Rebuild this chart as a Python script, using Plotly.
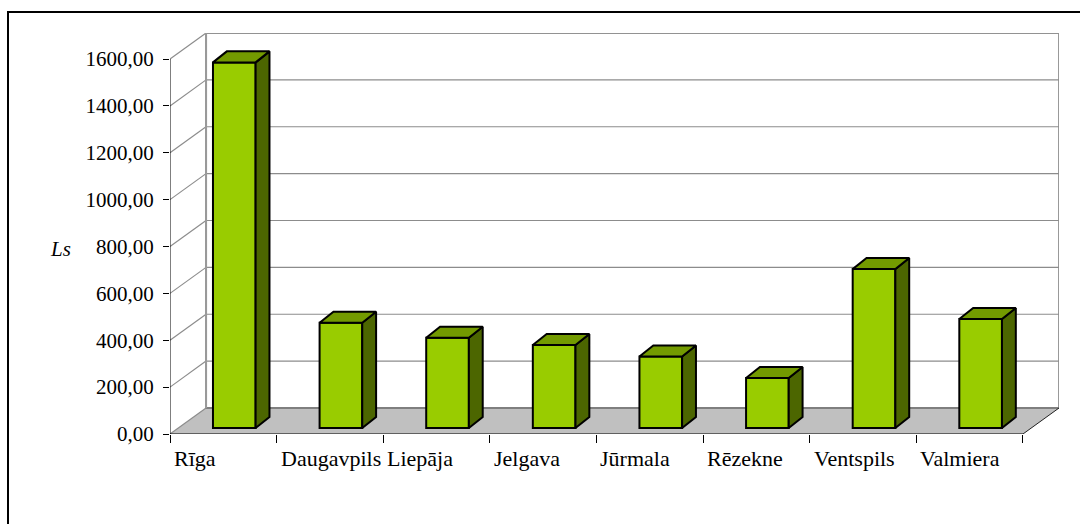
import plotly.graph_objects as go

# ---- data ----
categories = ["Rīga", "Daugavpils", "Liepāja", "Jelgava", "Jūrmala", "Rēzekne", "Ventspils", "Valmiera"]
values = [1560, 449, 385, 354, 305, 213, 678, 465]
tick_vals = [0, 200, 400, 600, 800, 1000, 1200, 1400, 1600]
tick_text = ["0,00", "200,00", "400,00", "600,00", "800,00", "1000,00", "1200,00", "1400,00", "1600,00"]
axis_title = "Ls"

# ---- pseudo-3D geometry (axis units) ----
n = len(categories)
DX, DY = 0.338, 111.0          # wall depth offset
SX, SY = 0.103, 25.6           # bar front-plane offset
BW = 0.40                      # bar width
BX, BY = 0.13, 47.0            # bar depth

FRONT = "#99CC00"
TOP = "#739A00"
SIDE = "#4C6600"
GRID = "#8C8C8C"
FONT = "Liberation Serif"
FS = 21

fig = go.Figure()

xl, xr = -0.5, n - 0.5
ymax = tick_vals[-1]

shapes = []
# back wall
shapes.append(dict(type="rect", xref="x", yref="y", x0=xl + DX, x1=xr + DX, y0=DY, y1=ymax + DY,
                   fillcolor="white", line=dict(color="#999999", width=2), layer="below"))
# floor
shapes.append(dict(type="path", xref="x", yref="y",
                   path=f"M{xl},0 L{xr},0 L{xr + DX},{DY} L{xl + DX},{DY} Z",
                   fillcolor="#C0C0C0", line=dict(width=0), layer="below"))
# floor back edge
shapes.append(dict(type="line", xref="x", yref="y", x0=xl + DX, x1=xr + DX, y0=DY, y1=DY,
                   line=dict(color="#7F7F7F", width=2), layer="below"))
# floor right edge
shapes.append(dict(type="line", xref="x", yref="y", x0=xr, x1=xr + DX, y0=0, y1=DY,
                   line=dict(color="#222222", width=1), layer="below"))
# grid lines (back wall + left side wall diagonals)
for v in tick_vals:
    if v > 0:
        shapes.append(dict(type="line", xref="x", yref="y", x0=xl + DX, x1=xr + DX, y0=v + DY, y1=v + DY,
                           line=dict(color=GRID, width=1.2), layer="below"))
    shapes.append(dict(type="line", xref="x", yref="y", x0=xl, x1=xl + DX, y0=v, y1=v + DY,
                       line=dict(color=GRID, width=1.2), layer="below"))
# left back vertical edge
shapes.append(dict(type="line", xref="x", yref="y", x0=xl + DX, x1=xl + DX, y0=DY, y1=ymax + DY,
                   line=dict(color="#999999", width=2), layer="below"))
# front value axis line
shapes.append(dict(type="line", xref="x", yref="y", x0=xl, x1=xl, y0=0, y1=ymax,
                   line=dict(color="black", width=1), layer="above"))
# front category axis line
shapes.append(dict(type="line", xref="x", yref="y", x0=xl, x1=xr, y0=0, y1=0,
                   line=dict(color="black", width=1), layer="above"))
# outer chart frame
shapes.append(dict(type="rect", xref="paper", yref="paper",
                   x0=(8 - 170) / 889, x1=(1095 - 170) / 889,
                   y0=(434 - 540) / 401, y1=(434 - 12) / 401,
                   line=dict(color="black", width=2), fillcolor="rgba(0,0,0,0)", layer="above"))

# bars: sides and tops
for i, v in enumerate(values):
    x0 = i - BW / 2 + SX
    x1 = i + BW / 2 + SX
    yb, yt = SY, v + SY
    fig.add_trace(go.Scatter(
        x=[x1, x1 + BX, x1 + BX, x1, x1], y=[yb, yb + BY, yt + BY, yt, yb],
        fill="toself", fillcolor=SIDE, mode="lines", line=dict(color="black", width=2),
        hoverinfo="skip", showlegend=False))
    fig.add_trace(go.Scatter(
        x=[x0, x0 + BX, x1 + BX, x1, x0], y=[yt, yt + BY, yt + BY, yt, yt],
        fill="toself", fillcolor=TOP, mode="lines", line=dict(color="black", width=2),
        hoverinfo="skip", showlegend=False))

# bars: front faces
fig.add_trace(go.Bar(
    x=[i + SX for i in range(n)], y=values, base=SY, width=BW,
    marker=dict(color=FRONT, line=dict(color="black", width=2)),
    showlegend=False, hovertext=categories))

annotations = []
for i, c in enumerate(categories):
    annotations.append(dict(x=i - 0.5, y=0, xref="x", yref="y", text=c, showarrow=False,
                            xanchor="left", yanchor="top", xshift=2, yshift=-10,
                            font=dict(family=FONT, size=FS + 1, color="black")))
annotations.append(dict(x=(60 - 170) / 889, y=(434 - 249) / 401, xref="paper", yref="paper",
                        text=f"<i>{axis_title}</i>", showarrow=False, xanchor="center", yanchor="middle",
                        font=dict(family=FONT, size=FS, color="black")))

fig.update_layout(
    width=1080, height=524,
    margin=dict(l=170, r=21, t=33, b=90, autoexpand=False),
    paper_bgcolor="white", plot_bgcolor="white",
    shapes=shapes, annotations=annotations,
    xaxis=dict(range=[xl, xr + DX], tickvals=[k - 0.5 for k in range(n + 1)], ticks="outside",
               ticklen=8, tickcolor="black", tickwidth=1, showticklabels=False,
               showgrid=False, zeroline=False, showline=False, fixedrange=True),
    yaxis=dict(range=[0, ymax + DY], tickvals=tick_vals, ticktext=tick_text, ticks="outside",
               ticklen=6, tickcolor="black", tickwidth=1, ticklabelstandoff=5,
               tickfont=dict(family=FONT, size=FS, color="black"),
               showgrid=False, zeroline=False, showline=False, fixedrange=True),
    showlegend=False,
)

fig.write_html("out.html", config={"displayModeBar": False},
               post_script="document.body.style.margin='0px';document.body.style.overflow='hidden';")
